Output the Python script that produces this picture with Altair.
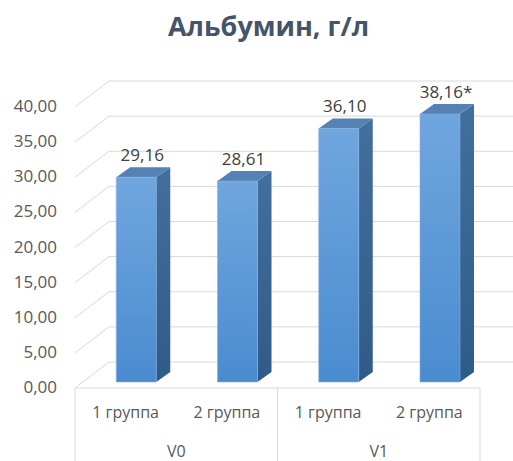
import altair as alt
import pandas as pd

# ---- data ----
categories = ["1 группа", "2 группа", "1 группа", "2 группа"]
visits = ["V0", "V0", "V1", "V1"]
values = [29.16, 28.61, 36.10, 38.16]
value_labels = ["29,16", "28,61", "36,10", "38,16*"]
visit_names = ["V0", "V1"]
ticks = [0, 5, 10, 15, 20, 25, 30, 35, 40]
title_text = "Альбумин, г/л"

# ---- geometry (styling constants) ----
W, H, TOP = 513, 461, 50
X0_PX, PX_PER_X = 75.0, 101.25
Y0_PX, PX_PER_Y = 388.0, 7.025
x_domain = [-X0_PX / PX_PER_X, (W - X0_PX) / PX_PER_X]
y_domain = [(Y0_PX - H) / PX_PER_Y, (Y0_PX - TOP) / PX_PER_Y]

WALL_DX = 34 / PX_PER_X
WALL_DY = 26 / PX_PER_Y
BAR_CENTER = 0.605
BAR_HALF = 20 / PX_PER_X
BAR_BASE = 6 / PX_PER_Y
DEPTH_DX = 14 / PX_PER_X
DEPTH_DY = 10 / PX_PER_Y
N = len(categories)

xs = alt.Scale(domain=x_domain, nice=False, zero=False)
ys = alt.Scale(domain=y_domain, nice=False, zero=False)

GRID = "#d9d9d9"

# ---- tables built from the arrays ----
front = pd.DataFrame({
    "id": range(N),
    "xl": [i + BAR_CENTER - BAR_HALF for i in range(N)],
    "xr": [i + BAR_CENTER + BAR_HALF for i in range(N)],
    "yb": [BAR_BASE] * N,
    "yt": [BAR_BASE + v for v in values],
    "xc": [i + BAR_CENTER + DEPTH_DX / 2 - 0.01 for i in range(N)],
    "ylab": [BAR_BASE + v + DEPTH_DY for v in values],
    "label": value_labels,
})

side_rows, top_rows = [], []
for i, v in enumerate(values):
    xl = i + BAR_CENTER - BAR_HALF
    xr = i + BAR_CENTER + BAR_HALF
    side_rows.append({"id": i, "x": xr, "top": BAR_BASE + v, "bot": BAR_BASE})
    side_rows.append({"id": i, "x": xr + DEPTH_DX, "top": BAR_BASE + v + DEPTH_DY, "bot": BAR_BASE + DEPTH_DY})
    top_rows.append({"id": i, "y": BAR_BASE + v, "xa": xl, "xb": xr})
    top_rows.append({"id": i, "y": BAR_BASE + v + DEPTH_DY, "xa": xl + DEPTH_DX, "xb": xr + DEPTH_DX})
side = pd.DataFrame(side_rows)
topf = pd.DataFrame(top_rows)

grid = pd.DataFrame({
    "t": ticks,
    "yb": [t + WALL_DY for t in ticks],
    "xb": [WALL_DX] * len(ticks),
    "xe": [x_domain[1]] * len(ticks),
    "x0": [0.0] * len(ticks),
    "lab": [f"{t:.2f}".replace(".", ",") for t in ticks],
    "xlab": [-18 / PX_PER_X] * len(ticks),
})

floor = pd.DataFrame({"x": [0.0], "x2": [float(N)], "y": [0.0]})
box = pd.DataFrame({"x": [0.0, N / 2, float(N)], "y": [0.0] * 3, "y2": [y_domain[0]] * 3})

cat_df = pd.DataFrame({
    "x": [i + 0.5 for i in range(N)],
    "y": [-25 / PX_PER_Y] * N,
    "cat": categories,
})
visit_df = pd.DataFrame({
    "x": [2 * j + 1.0 for j in range(len(visit_names))],
    "y": [-64 / PX_PER_Y] * len(visit_names),
    "v": visit_names,
})

# ---- layers ----
back_grid = alt.Chart(grid).mark_rule(color=GRID, strokeWidth=1).encode(
    x=alt.X("xb:Q", scale=xs, axis=None), x2="xe:Q",
    y=alt.Y("yb:Q", scale=ys, axis=None),
)
diag = alt.Chart(grid).mark_rule(color=GRID, strokeWidth=1).encode(
    x=alt.X("x0:Q", scale=xs, axis=None), x2="xb:Q",
    y=alt.Y("t:Q", scale=ys, axis=None), y2="yb:Q",
)
floor_rule = alt.Chart(floor).mark_rule(color=GRID, strokeWidth=1).encode(
    x=alt.X("x:Q", scale=xs, axis=None), x2="x2:Q",
    y=alt.Y("y:Q", scale=ys, axis=None),
)
box_rule = alt.Chart(box).mark_rule(color=GRID, strokeWidth=1).encode(
    x=alt.X("x:Q", scale=xs, axis=None),
    y=alt.Y("y:Q", scale=ys, axis=None), y2="y2:Q",
)

side_grad = alt.LinearGradient(
    gradient="linear", x1=0, y1=0, x2=0, y2=1,
    stops=[alt.GradientStop(color="#436f9e", offset=0),
           alt.GradientStop(color="#2f5b89", offset=1)],
)
front_grad = alt.LinearGradient(
    gradient="linear", x1=0, y1=0, x2=0, y2=1,
    stops=[alt.GradientStop(color="#70a6de", offset=0),
           alt.GradientStop(color="#4a8bd0", offset=1)],
)

side_layer = alt.Chart(side).mark_area(color=side_grad, opacity=1).encode(
    x=alt.X("x:Q", scale=xs, axis=None),
    y=alt.Y("top:Q", scale=ys, axis=None), y2="bot:Q",
    detail="id:N",
)
top_layer = alt.Chart(topf).mark_area(orient="horizontal", color="#5581b4", opacity=1).encode(
    y=alt.Y("y:Q", scale=ys, axis=None),
    x=alt.X("xa:Q", scale=xs, axis=None), x2="xb:Q",
    detail="id:N",
)
front_layer = alt.Chart(front).mark_bar(color=front_grad, stroke="#7fb0e3", strokeWidth=0.6).encode(
    x=alt.X("xl:Q", scale=xs, axis=None), x2="xr:Q",
    y=alt.Y("yb:Q", scale=ys, axis=None), y2="yt:Q",
)

value_text = alt.Chart(front).mark_text(
    font="Open Sans", fontSize=17, color="#404040", baseline="alphabetic", dy=-6
).encode(
    x=alt.X("xc:Q", scale=xs, axis=None),
    y=alt.Y("ylab:Q", scale=ys, axis=None),
    text="label:N",
)
ytick_text = alt.Chart(grid).mark_text(
    font="Open Sans", fontSize=17, color="#595959", align="right", baseline="middle"
).encode(
    x=alt.X("xlab:Q", scale=xs, axis=None),
    y=alt.Y("t:Q", scale=ys, axis=None),
    text="lab:N",
)
cat_text = alt.Chart(cat_df).mark_text(
    font="Open Sans", fontSize=16, color="#595959", baseline="middle"
).encode(
    x=alt.X("x:Q", scale=xs, axis=None),
    y=alt.Y("y:Q", scale=ys, axis=None),
    text="cat:N",
)
visit_text = alt.Chart(visit_df).mark_text(
    font="Open Sans", fontSize=16, color="#595959", baseline="middle"
).encode(
    x=alt.X("x:Q", scale=xs, axis=None),
    y=alt.Y("y:Q", scale=ys, axis=None),
    text="v:N",
)

chart = alt.layer(
    back_grid, diag, floor_rule, box_rule,
    side_layer, top_layer, front_layer,
    value_text, ytick_text, cat_text, visit_text,
).properties(
    width=W, height=H - TOP,
    autosize=alt.AutoSizeParams(type="none"),
    padding={"top": TOP, "left": 0, "right": 0, "bottom": 0},
    title=alt.TitleParams(
        title_text, font="Open Sans", fontSize=27, fontWeight="bold",
        color="#44546a", anchor="middle", dx=12, offset=8,
    ),
).configure(background="white").configure_view(stroke=None)

chart.save("out.html", embed_options={"renderer": "svg", "actions": False})
